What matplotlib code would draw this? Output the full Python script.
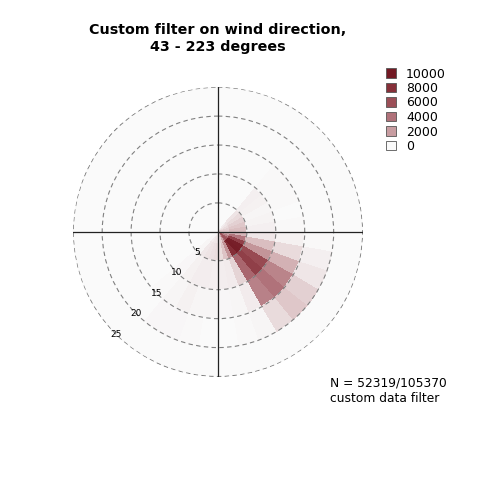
"""2D wind rose: counts by direction sector and speed bin, custom direction filter."""
import numpy as np
import matplotlib
matplotlib.use("Agg")
import matplotlib.pyplot as plt  # noqa: E402
from matplotlib.colors import LinearSegmentedColormap, Normalize  # noqa: E402
from matplotlib.patches import Patch  # noqa: E402

# direction bin edges (deg, from north clockwise) and speed bin edges
dir_edges = np.arange(40, 240, 10)
speed_edges = [0, 2, 5, 10, 15, 20, 25]

# counts: one row per direction bin, one column per speed bin
counts = np.array([
    [300, 500, 250, 60, 0, 0],          # 40-50
    [500, 700, 200, 50, 0, 0],          # 50-60
    [700, 900, 150, 40, 0, 0],          # 60-70
    [900, 1100, 180, 30, 0, 0],         # 70-80
    [1000, 1300, 250, 60, 0, 0],        # 80-90
    [1100, 1500, 450, 200, 40, 0],      # 90-100
    [1800, 3800, 1300, 700, 250, 0],    # 100-110
    [3200, 7000, 2400, 1600, 450, 0],   # 110-120
    [5200, 9500, 6300, 3200, 900, 0],   # 120-130
    [5800, 9700, 7000, 4000, 1100, 0],  # 130-140
    [4500, 8200, 4700, 3300, 700, 0],   # 140-150
    [1800, 2500, 850, 350, 120, 0],     # 150-160
    [900, 1200, 350, 150, 40, 0],       # 160-170
    [600, 700, 280, 100, 20, 0],        # 170-180
    [500, 650, 250, 120, 30, 0],        # 180-190
    [450, 550, 280, 150, 50, 0],        # 190-200
    [400, 500, 300, 200, 80, 0],        # 200-210
    [300, 400, 220, 150, 80, 0],        # 210-220
    [100, 150, 80, 50, 30, 0],          # 220-230
])

ring_values = [5, 10, 15, 20, 25]
legend_levels = [10000, 8000, 6000, 4000, 2000, 0]
n_text = "N = 52319/105370\ncustom data filter"
title = "Custom filter on wind direction,\n43 - 223 degrees"

cmap = LinearSegmentedColormap.from_list(
    "wr", ["#fafafa", "#c89da1", "#b0727a", "#9b4f57", "#863039", "#731a24"])
norm = Normalize(0, 10000)


def main():
    fig = plt.figure(figsize=(4.8, 4.8), dpi=100)
    ax = fig.add_axes([0.152, 0.215, 0.604, 0.604], projection="polar")
    ax.set_theta_zero_location("N")
    ax.set_theta_direction(-1)
    ax.set_facecolor("#fafafa")
    ax.set_axisbelow(False)

    th, rr = np.meshgrid(np.deg2rad(dir_edges), speed_edges, indexing="ij")
    ax.pcolormesh(th, rr, np.ma.masked_equal(counts, 0), cmap=cmap,
                  norm=norm, shading="flat", zorder=1)

    ax.set_ylim(0, 25.05)
    ax.set_yticks(ring_values)
    ax.set_yticklabels([])
    ax.yaxis.grid(True, color="#808080", ls=(0, (4, 3)), lw=0.8)
    ax.set_xticks([])
    ax.xaxis.grid(False)
    ax.spines["polar"].set_visible(False)

    # ring labels along the south-west radius, above the wedges
    for r in ring_values:
        ax.text(np.deg2rad(225), r, str(r), fontsize=6.5, ha="center",
                va="center", zorder=5)

    # crosshair on top of the wedges
    for a in (0, 90, 180, 270):
        ax.plot([np.deg2rad(a)] * 2, [0, 25], color="#222222", lw=0.9,
                zorder=3)

    fig.text(218 / 480, 1 - 23.5 / 480, title, ha="center", va="top",
             fontsize=10.3, fontweight="bold")

    handles = [Patch(facecolor=cmap(norm(v)), edgecolor="#555555", lw=0.6,
                     label=str(v)) for v in legend_levels]
    fig.legend(handles=handles, loc="upper left",
               bbox_to_anchor=(386 / 480, 1 - 67.5 / 480), frameon=False,
               fontsize=9, borderaxespad=0, borderpad=0, handlelength=0.8,
               handleheight=0.8, handletextpad=0.8, labelspacing=0.12)

    fig.text(330 / 480, 1 - 377 / 480, n_text, ha="left", va="top",
             fontsize=8.8)

    fig.savefig("out.png", dpi=100)


if __name__ == "__main__":
    main()
